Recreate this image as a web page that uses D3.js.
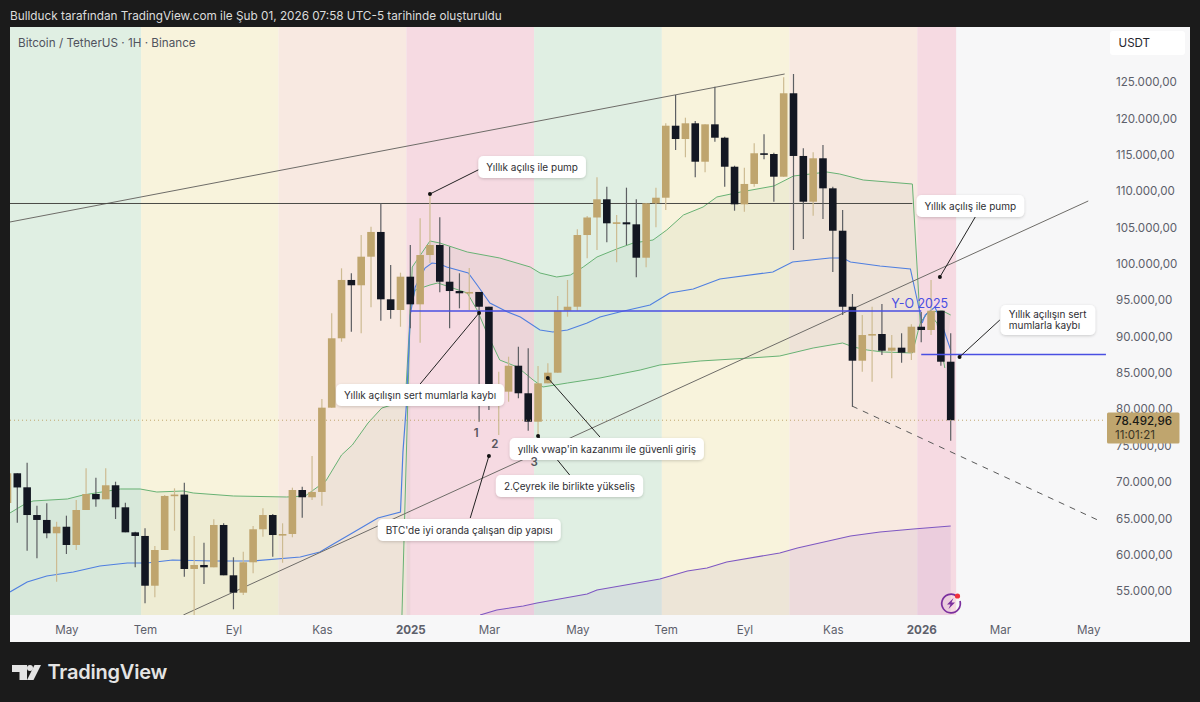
<!DOCTYPE html>
<html>
<head>
<meta charset="utf-8">
<style>
  html, body { margin: 0; padding: 0; background: #1b1b1b; }
  svg { display: block; }
  text { font-family: Inter, "Noto Sans", sans-serif; }
</style>
<script src="https://cdn.jsdelivr.net/npm/d3@7"></script>
</head>
<body>
<div id="result"></div>
<script>
// weekly candles, oldest first
const opens = [67110,71200,69270,65460,64780,62950,63850,61340,66150,68350,67620,69550,66520,63080,62580,55740,60650,68080,68270,58040,58590,58270,64090,57170,54780,58960,63500,65460,62710,62850,68900,67900,68630,80220,89760,97780,97050,100980,104380,95120,93650,98230,94430,101210,102590,97540,96260,95950,96130,94100,81280,82420,85990,82200,78290,83570,85030,93550,94100,103960,106370,108870,105570,105710,105430,100840,108320,109090,118990,117160,119320,114040,119180,117340,113350,108180,110980,115200,115100,111980,123450,114830,108540,114510,110380,104550,94100,86680,90210,90350,88050,88470,87780,91350,90900,93550,86540];
const highs = [71500,71200,72650,66740,67070,64540,65370,67530,71880,70590,71880,70040,67150,63160,63630,61200,68210,69130,69900,62580,61650,64870,64320,59650,60420,63950,66380,65600,64320,69220,69350,73580,81410,93200,99380,98700,103960,105100,108320,99840,98780,102590,106260,109600,106400,102350,98700,99430,96130,94100,85170,87230,88600,88380,85950,86320,95580,97780,104750,106580,111900,110600,106710,110470,108870,108320,110470,119320,123210,120090,119640,119180,124350,117480,113490,113220,116570,117810,115280,125650,126100,115880,115330,116340,110600,107400,95850,92960,94100,94480,90210,90450,91680,93380,97780,93550,90450];
const lows = [66500,64400,60550,59510,62260,56290,60100,60650,66150,66600,67620,64910,63080,58270,53320,54150,60650,63300,56980,51030,55980,58270,57170,52500,54460,57450,62480,59730,58900,62400,65090,67530,66740,80220,89290,90670,90450,94020,92180,92450,91350,91130,89150,100110,96080,91130,93880,93650,78290,79900,76460,81040,81510,77050,76230,83570,85030,92730,93550,100760,101900,102960,100210,102590,98150,99520,105020,107400,115650,114650,111900,112580,116790,110600,107300,107170,110600,114370,108540,111980,101900,103410,106620,106160,98880,92960,80350,85170,83790,87460,84260,86400,86780,89210,90210,85990,75680];
const closes = [71200,69250,65460,64780,62950,63850,61340,66150,68350,67620,69550,66520,63080,62580,55740,60650,68080,68270,58040,58590,58270,64090,57170,54780,58960,63500,65460,62710,62850,68900,67900,68630,80220,89760,97780,97050,100980,104380,95120,93650,98230,94430,101210,102590,97540,96260,95950,96130,94100,82100,82380,85990,82200,78290,83570,85030,93550,94100,103960,106370,108870,105570,105710,105430,100840,108320,109090,118990,117160,119320,114040,119180,117340,113350,108180,110980,115200,115100,111980,123450,114830,108540,114510,110380,104550,94100,86680,90210,90350,88050,88470,87780,91350,90900,93550,86540,78492.96];

const priceTicks = [55000,60000,65000,70000,75000,80000,85000,90000,95000,100000,105000,110000,115000,120000,125000];
const monthBars = [6,14,23,32,41,49,58,67,75,84,93,101,110];
const monthLabels = ["May","Tem","Eyl","Kas","2025","Mar","May","Tem","Eyl","Kas","2026","Mar","May"];

// quarter background bands
const seasonEdges = [0,13.6,27.6,40.6,53.6,66.6,79.6,92.6,96.55];
const seasonNames = ["q2","q3","q4","q1","q2","q3","q4","q1"];

// yearly anchored vwap and bands
const vwap24Bars = [0.25,2,4,6.7,9.4,12.2,14.2,16.8,20.9,25,29.8,31.8,33,35.1,37.7,40,40.25,40.6,41];
const vwap24Prices = [54875,56250,57075,57625,58450,58863,58863,59275,59138,59138,59688,60375,61338,62988,65050,65875,74125,80588,92963];
const vwap25Bars = [41,41.5,42.5,43.2,44,44.7,46.9,47.8,49.1,50.9,52.2,54.2,55.5,57,59,60.3,62.3,65.4,67.4,69.8,72.5,77.9,79.9,83.7,85,85.8,88.8,91.9,93.1];
const vwap25Prices = [92963,96813,99425,100113,99975,99563,98738,97088,94613,93375,92688,90900,90625,90900,91863,92688,93375,94338,95988,96538,97913,98875,100250,100800,100800,100250,99700,99288,91863];
const vwap26Bars = [93.1,93.4,94.4,95.2,96];
const vwap26Prices = [91863,92963,94063,91313,88150];

const upper24Bars = [0.25,1.6,2.6,6.1,7.7,11.5,13.5,15.2,17.9,18.9,23,28.4,30.3,32.4,34,35.1,36.7,38.1,39.1,40.5,41];
const upper24Prices = [65738,66838,67388,67663,68213,69038,69038,68625,68763,68488,68075,67938,68075,70138,73713,75088,78113,80175,80588,81275,93650];
const lower24Bars = [40.15,41];
const lower24Prices = [51713,93650];
const upper25Bars = [41,41.2,43,44,46.8,50.1,53.2,54.2,55.9,57.3,58.6,60,62,63.7,65.7,67.1,68.8,70.8,72.2,74.6,78,80,83.4,84.7,87.1,92.1,92.9];
const upper25Prices = [93650,99563,103138,102863,101625,100800,99563,98738,98188,98463,99563,100938,102038,102863,103275,104650,106713,107813,109188,109875,110700,112075,112625,112350,111525,110975,91863];
const lower25Bars = [41,41.5,43,43.8,46.8,47.8,48.8,50.1,51.9,53.5,54.5,57,60.3,64.4,66.4,70.5,75.6,78.6,82,85,86.1,87.5,89.1,92.1,92.9];
const lower25Prices = [93650,96400,97088,97363,95988,93650,90488,86775,85813,84025,83063,83613,84300,85400,86088,86638,87050,87325,88425,89113,88563,88150,87875,87738,91863];
const upper26Bars = [92.9,93.7,95.2,96];
const upper26Prices = [91863,93375,93513,92963];
const lower26Bars = [92.9,93.7,94.6,95.4];
const lower26Prices = [91863,93375,91863,85675];
const purpleBars = [48.1,49.8,52.5,53.9,59,60,66.4,69.2,71.2,73.2,78.6,80.4,85.8,88.8,92.2,96];
const purplePrices = [51713,52400,52950,53363,54600,55150,56663,57763,58175,59000,60238,60925,62575,63125,63538,63950];

// drawings
const topTrendBars = [0.25,79.1];
const topTrendPrices = [105750,126100];
const bottomTrendBars = [17.9,110];
const bottomTrendPrices = [51713,108638];
const resistanceBars = [0.25,92.1];
const resistancePrice = 108295;
const yearOpenBars = [41,93];
const yearOpenPrice = 93513;
const yearOpen26Bars = [93,111.8];
const yearOpen26Price = 87531;
const dashBars = [85.95,111.4];
const dashPrices = [80450,64500];
const lastPrice = 78492.96;

const noteTexts = [["Yıllık açılış ile pump"],["Yıllık açılış ile pump"],["Yıllık açılışın sert","mumlarla kaybı"],["Yıllık açılışın sert mumlarla kaybı"],["yıllık vwap'in kazanımı ile güvenli giriş"],["2.Çeyrek ile birlikte yükseliş"],["BTC'de iyi oranda çalışan dip yapısı"]];
const noteBars = [43,94.9,96.9,48,55,54,49];
const notePrices = [109600,98188,87188,93238,84300,76325,73575];
const tailBars = [48.3,98.5,101,42,60.3,57.3,47.1];
const tailPrices = [113175,106438,92275,83475,76188,70825,65050];
const boxBars = [53.4,98,105.9,42,61,57.2,47];
const boxPrices = [113313,107950,92275,81963,74538,69450,63400];
const countLabels = ["1","2","3"];
const countBars = [47.7,49.6,53.6];
const countPrices = [76737,75225,72800];

const width = 1200, height = 702;
const plot = { left: 10, right: 1106, top: 27, bottom: 615, frameRight: 1190, frameBottom: 642 };
const seasonColor = { q1: "#f6dae2", q2: "#e0efe3", q3: "#f8f3dc", q4: "#f8e9e1" };
const tan = "#bfa56e", dark = "#131722";
const green = "#68b274", blue = "#4f7fe0", purple = "#7e57c2", inkBlue = "#4a4fe2";

const x = d3.scaleLinear().domain([0, 96]).range([7.475, 950.7]);
const y = d3.scaleLinear().domain([51712.5, 132562.5]).range([plot.bottom, plot.top]);

const zip = (bars, prices) => bars.map((b, i) => ({ bar: b, price: prices[i] }));
const line = d3.line().x(d => x(d.bar)).y(d => y(d.price));
const toBottom = d3.area().x(d => x(d.bar)).y0(plot.bottom).y1(d => y(d.price));

const root = d3.select("#result").append("svg").attr("width", width).attr("height", height);
const defs = root.append("defs");
defs.append("clipPath").attr("id", "plotClip").append("rect")
    .attr("x", plot.left).attr("y", plot.top)
    .attr("width", plot.right - plot.left).attr("height", plot.bottom - plot.top);
const shadow = defs.append("filter").attr("id", "noteShadow")
    .attr("x", "-20%").attr("y", "-40%").attr("width", "140%").attr("height", "190%");
shadow.append("feDropShadow").attr("dx", 0).attr("dy", 1).attr("stdDeviation", 1.6)
    .attr("flood-color", "#000").attr("flood-opacity", 0.18);

root.append("rect").attr("width", width).attr("height", height).attr("fill", "#1b1b1b");
root.append("rect").attr("x", plot.left).attr("y", plot.top)
    .attr("width", plot.frameRight - plot.left).attr("height", plot.frameBottom - plot.top)
    .attr("fill", "#f7f7f8");

root.append("text").attr("x", 10).attr("y", 19.5).attr("fill", "#dcdcdc")
    .attr("font-size", 11.78).text("Bullduck tarafından TradingView.com ile Şub 01, 2026 07:58 UTC-5 tarihinde oluşturuldu");

const chart = root.append("g").attr("clip-path", "url(#plotClip)");

// backgrounds
chart.append("g").selectAll("rect").data(seasonNames).join("rect")
    .attr("x", (d, i) => x(seasonEdges[i]))
    .attr("width", (d, i) => x(seasonEdges[i + 1]) - x(seasonEdges[i]))
    .attr("y", plot.top).attr("height", plot.bottom - plot.top)
    .attr("fill", d => seasonColor[d]);

// band fills
const bandFill = "rgba(80,130,80,0.055)";
chart.append("path").attr("d", toBottom(zip(upper24Bars, upper24Prices))).attr("fill", bandFill);
chart.append("path").attr("d", line(zip(upper25Bars, upper25Prices).concat(zip(lower25Bars, lower25Prices).reverse())) + "Z").attr("fill", bandFill);
chart.append("path").attr("d", line(zip(upper26Bars, upper26Prices).concat(zip(lower26Bars, lower26Prices).reverse())) + "Z").attr("fill", bandFill);
chart.append("path").attr("d", toBottom(zip(purpleBars, purplePrices))).attr("fill", "rgba(110,70,170,0.08)");

// indicator lines
function curve(bars, prices, color, w) {
    chart.append("path").attr("d", line(zip(bars, prices)))
        .attr("fill", "none").attr("stroke", color).attr("stroke-width", w || 1);
}
curve(lower24Bars, lower24Prices, green);
curve(upper24Bars, upper24Prices, green);
curve(upper25Bars, upper25Prices, green);
curve(lower25Bars, lower25Prices, green);
curve(upper26Bars, upper26Prices, green);
curve(lower26Bars, lower26Prices, green);
curve(vwap24Bars, vwap24Prices, blue, 1.2);
curve(vwap25Bars, vwap25Prices, blue, 1.1);
curve(vwap26Bars, vwap26Prices, blue, 1.1);
curve(purpleBars, purplePrices, purple, 1.1);

// drawings under candles
curve(topTrendBars, topTrendPrices, "#6e6c68", 1);
curve(bottomTrendBars, bottomTrendPrices, "#6e6c68", 1);
curve(resistanceBars, [resistancePrice, resistancePrice], "#4a4a46", 1);

// candles
const candles = chart.append("g").selectAll("g").data(opens).join("g");
candles.append("line")
    .attr("x1", (d, i) => x(i)).attr("x2", (d, i) => x(i))
    .attr("y1", (d, i) => y(highs[i])).attr("y2", (d, i) => y(lows[i]))
    .attr("stroke", (d, i) => closes[i] >= d ? "#cdbb92" : "#5d5f63")
    .attr("stroke-width", 1.2);
candles.append("rect")
    .attr("x", (d, i) => x(i) - 3.8).attr("width", 7.6)
    .attr("y", (d, i) => y(Math.max(d, closes[i])))
    .attr("height", (d, i) => Math.max(1.6, y(Math.min(d, closes[i])) - y(Math.max(d, closes[i]))))
    .attr("fill", (d, i) => closes[i] >= d ? tan : dark);

// drawings over candles
curve(yearOpenBars, [yearOpenPrice, yearOpenPrice], inkBlue, 1.5);
curve(yearOpen26Bars, [yearOpen26Price, yearOpen26Price], inkBlue, 1.5);
chart.append("path").attr("d", line(zip(dashBars, dashPrices)))
    .attr("fill", "none").attr("stroke", "#5a5a5a").attr("stroke-width", 1).attr("stroke-dasharray", "6 6");
chart.append("line").attr("x1", plot.left).attr("x2", plot.right)
    .attr("y1", y(lastPrice)).attr("y2", y(lastPrice))
    .attr("stroke", tan).attr("stroke-width", 1).attr("stroke-dasharray", "1 3");

chart.append("text").attr("x", x(yearOpenBars[1]) + 27).attr("y", y(yearOpenPrice) - 2.5)
    .attr("text-anchor", "end").attr("font-size", 12.5).attr("fill", inkBlue).text("Y-O 2025");

// notes: leader, dot and label
const notes = root.append("g");
notes.selectAll("line").data(noteTexts).join("line")
    .attr("x1", (d, i) => x(noteBars[i])).attr("y1", (d, i) => y(notePrices[i]))
    .attr("x2", (d, i) => x(tailBars[i])).attr("y2", (d, i) => y(tailPrices[i]))
    .attr("stroke", "#222").attr("stroke-width", 1);
notes.selectAll("circle").data(noteTexts).join("circle")
    .attr("cx", (d, i) => x(noteBars[i])).attr("cy", (d, i) => y(notePrices[i]))
    .attr("r", 2).attr("fill", "#111");

const noteBoxes = notes.selectAll("g").data(noteTexts).join("g")
    .attr("transform", (d, i) => "translate(" + x(boxBars[i]) + "," + y(boxPrices[i]) + ")");
noteBoxes.append("rect").attr("fill", "#fff").attr("rx", 5).attr("filter", "url(#noteShadow)");
noteBoxes.each(function (lines) {
    const g = d3.select(this);
    lines.forEach((t, j) => {
        g.append("text").attr("class", "noteText")
            .attr("x", 0).attr("y", (j - (lines.length - 1) / 2) * 10.5)
            .attr("dy", "0.36em").attr("text-anchor", lines.length > 1 ? "start" : "middle")
            .attr("font-size", 10).attr("fill", "#2e2e33").text(t);
    });
    const box = this.getBBox();
    g.selectAll("text.noteText").attr("x", lines.length > 1 ? -box.width / 2 : 0);
    const h = lines.length > 1 ? 30 : 22;
    g.select("rect").attr("x", -box.width / 2 - 8).attr("width", box.width + 16)
        .attr("y", -h / 2).attr("height", h);
});

// wave counts sit on top of the note boxes
root.append("g").selectAll("text").data(countLabels).join("text")
    .attr("x", (d, i) => x(countBars[i])).attr("y", (d, i) => y(countPrices[i]))
    .attr("dy", "0.36em").attr("text-anchor", "middle")
    .attr("font-size", 11.5).attr("font-weight", 600).attr("fill", "#55555c").text(d => d);

// boost icon in the corner of the plot
const icon = root.append("g").attr("transform", "translate(951,603.5)");
icon.append("path").attr("d", "M5.5 -7.5 A9.3 9.3 0 1 0 9 -2.5")
    .attr("fill", "none").attr("stroke", "#7b2f9e").attr("stroke-width", 1.7);
icon.append("path").attr("d", "M2.5 -5.5 L-4 1 H-0.5 L-2.5 5.5 L4 -1 H0.5 Z").attr("fill", "#7b2f9e");
icon.append("circle").attr("cx", 6.5).attr("cy", -7.5).attr("r", 2.6).attr("fill", "#f0313d");

root.append("text").attr("x", 18).attr("y", 46.5).attr("fill", "#50535e")
    .attr("font-size", 11.7).text("Bitcoin / TetherUS · 1H · Binance");

// axes
const priceFormat = d3.formatLocale({ decimal: ",", thousands: ".", grouping: [3], currency: ["", ""] }).format(",.2f");
const yAxis = root.append("g").attr("transform", "translate(1116,0)")
    .call(d3.axisRight(y).tickValues(priceTicks).tickSize(0).tickPadding(0).tickFormat(priceFormat));
yAxis.select(".domain").remove();
yAxis.selectAll("text").attr("font-family", "Inter").attr("font-size", 11.6).attr("fill", "#5d606b");

const xAxis = root.append("g").attr("transform", "translate(0," + plot.bottom + ")")
    .call(d3.axisBottom(x).tickValues(monthBars).tickSize(0).tickPadding(11).tickFormat((d, i) => monthLabels[i]));
xAxis.select(".domain").remove();
xAxis.selectAll("text").attr("font-family", "Inter").attr("font-size", 11.6).attr("fill", "#5d606b")
    .attr("font-weight", (d, i) => /^20/.test(monthLabels[i]) ? 700 : 400);

// currency and last price tags
root.append("rect").attr("x", 1110).attr("y", 31).attr("width", 75).attr("height", 24).attr("rx", 3).attr("fill", "#fff");
root.append("text").attr("x", 1118.5).attr("y", 47).attr("font-size", 11.6).attr("fill", "#26272e").text("USDT");
root.append("rect").attr("x", 1107).attr("y", 412.5).attr("width", 72.5).attr("height", 31).attr("rx", 1.5).attr("fill", tan);
root.append("text").attr("x", 1115).attr("y", 425).attr("font-size", 11.6).attr("font-weight", 500).attr("fill", "#1a1a16").text(priceFormat(lastPrice));
root.append("text").attr("x", 1115).attr("y", 439).attr("font-size", 11.6).attr("fill", "#3a3424").text("11:01:21");

// footer logo
const logo = root.append("g").attr("fill", "#e4e4e4");
logo.append("path").attr("d", "M12 665 H27 V680 H19.5 V672 H12 Z");
logo.append("circle").attr("cx", 30).attr("cy", 668).attr("r", 3);
logo.append("path").attr("d", "M34.5 665 H41 L33.5 680 H27 Z");
root.append("text").attr("x", 47.5).attr("y", 679).attr("font-size", 20).attr("font-weight", 600)
    .attr("fill", "#e4e4e4").attr("letter-spacing", -0.2).text("TradingView");
</script>
</body>
</html>
